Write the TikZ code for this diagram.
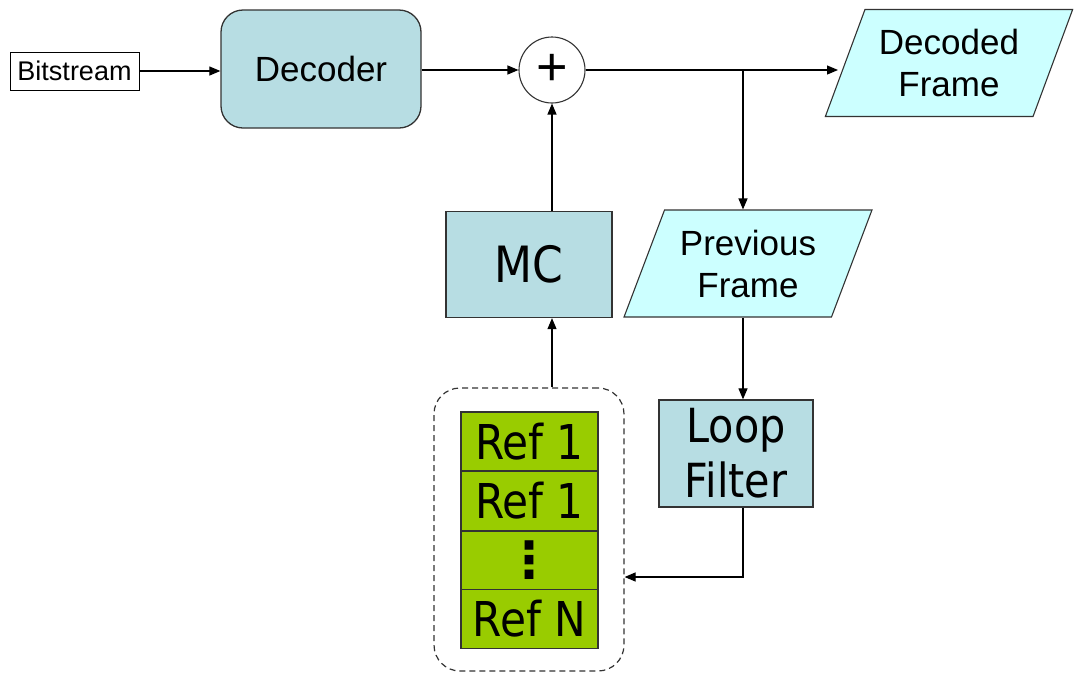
\documentclass[tikz,border=0pt]{standalone}
\usepackage{fontspec}
\setmainfont{Liberation Sans}
\newfontfamily\narrowsans[FakeStretch=0.88]{DejaVu Sans}
\newfontfamily\dotsfont{DejaVu Sans}
\usetikzlibrary{shapes.geometric,arrows.meta}

\definecolor{edge}{HTML}{333333}
\definecolor{boxblue}{HTML}{B7DDE3}
\definecolor{framecyan}{HTML}{CCFFFF}
\definecolor{refgreen}{HTML}{99CC00}

\tikzset{
  conn/.style={line width=1.2pt, draw=black},
  arr/.style={conn, -{Triangle[length=11pt,width=9pt]}},
  plainbox/.style={draw=black, line width=1pt, fill=white, minimum width=129pt, minimum height=38pt,
    inner sep=0pt, font=\fontsize{27}{30}\selectfont},
  roundbox/.style={draw=edge, line width=1.3pt, fill=boxblue, rounded corners=22pt,
    minimum width=200pt, minimum height=118pt, inner sep=0pt, font=\fontsize{35}{40}\selectfont},
  blockbox/.style={draw=edge, line width=1.3pt, fill=boxblue, inner sep=0pt, align=center},
  framebox/.style={trapezium, trapezium stretches=true, trapezium left angle=64, trapezium right angle=116,
    draw=edge, line width=1.1pt, fill=framecyan, minimum width=248pt, minimum height=107pt,
    inner sep=0pt, align=center, font=\fontsize{35}{42}\selectfont},
  refcell/.style={draw=edge, line width=1.1pt, fill=refgreen, minimum width=137pt, minimum height=59pt,
    inner sep=0pt, font=\narrowsans\fontsize{48}{50}\selectfont},
  storebox/.style={draw=edge, line width=1.2pt, dash pattern=on 6pt off 4pt, rounded corners=26pt,
    minimum width=190pt, minimum height=283pt, inner sep=0pt},
}

\begin{document}
\begin{tikzpicture}[x=1pt, y=-1pt]
  \useasboundingbox (0,0) rectangle (1074,673);

  % input and decoding path
  \node[plainbox] (bits) at (74.5,71) {Bitstream};
  \node[roundbox] (dec) at (321,69) {Decoder};
  \node[circle, draw=edge, line width=1.1pt, fill=white, minimum size=66pt, inner sep=0pt,
        font=\fontsize{54}{54}\selectfont] (plus) at (552,70) {\raisebox{1pt}{+}};

  % output frames
  \node[framebox] (dframe) at (949,63) {Decoded\\Frame};
  \node[framebox] (pframe) at (748,263.5) {Previous\\Frame};

  % motion compensation and loop filter
  \node[blockbox, minimum width=166pt, minimum height=106pt,
        font=\narrowsans\fontsize{50}{50}\selectfont] (mc) at (529,264.5) {MC};
  \node[blockbox, minimum width=154pt, minimum height=107pt,
        font=\narrowsans\fontsize{47}{55}\selectfont] (loop) at (736,453.5) {Loop\\Filter};

  % reference picture buffer
  \node[storebox] (store) at (529,529.5) {};
  \node[refcell] (r1) at (529.5,441.5) {Ref 1};
  \node[refcell] (r2) at (529.5,501) {Ref 1};
  \node[refcell, font=\dotsfont\bfseries\fontsize{50}{50}\selectfont] (rdots) at (529.5,560.5) {\raisebox{3pt}{⋮}};
  \node[refcell] (rn) at (529.5,619) {Ref N};

  % connectors
  \coordinate (split) at (743,70);
  \coordinate (dtip) at (838,70);
  \draw[arr] (bits.east) -- (dec.west |- bits.east);
  \draw[arr] (dec.east |- plus.west) -- (plus.west);
  \draw[arr] (plus.east) -- (dtip);
  \draw[arr] (split) -- (split |- pframe.north);
  \draw[arr] (split |- pframe.south) -- (split |- loop.north);
  \draw[arr] (split |- loop.south) |- ([yshift=-47.5pt]store.east);
  \draw[arr] (plus.south |- store.north) -- (plus.south |- mc.south);
  \draw[arr] (plus.south |- mc.north) -- (plus.south);
\end{tikzpicture}
\end{document}
